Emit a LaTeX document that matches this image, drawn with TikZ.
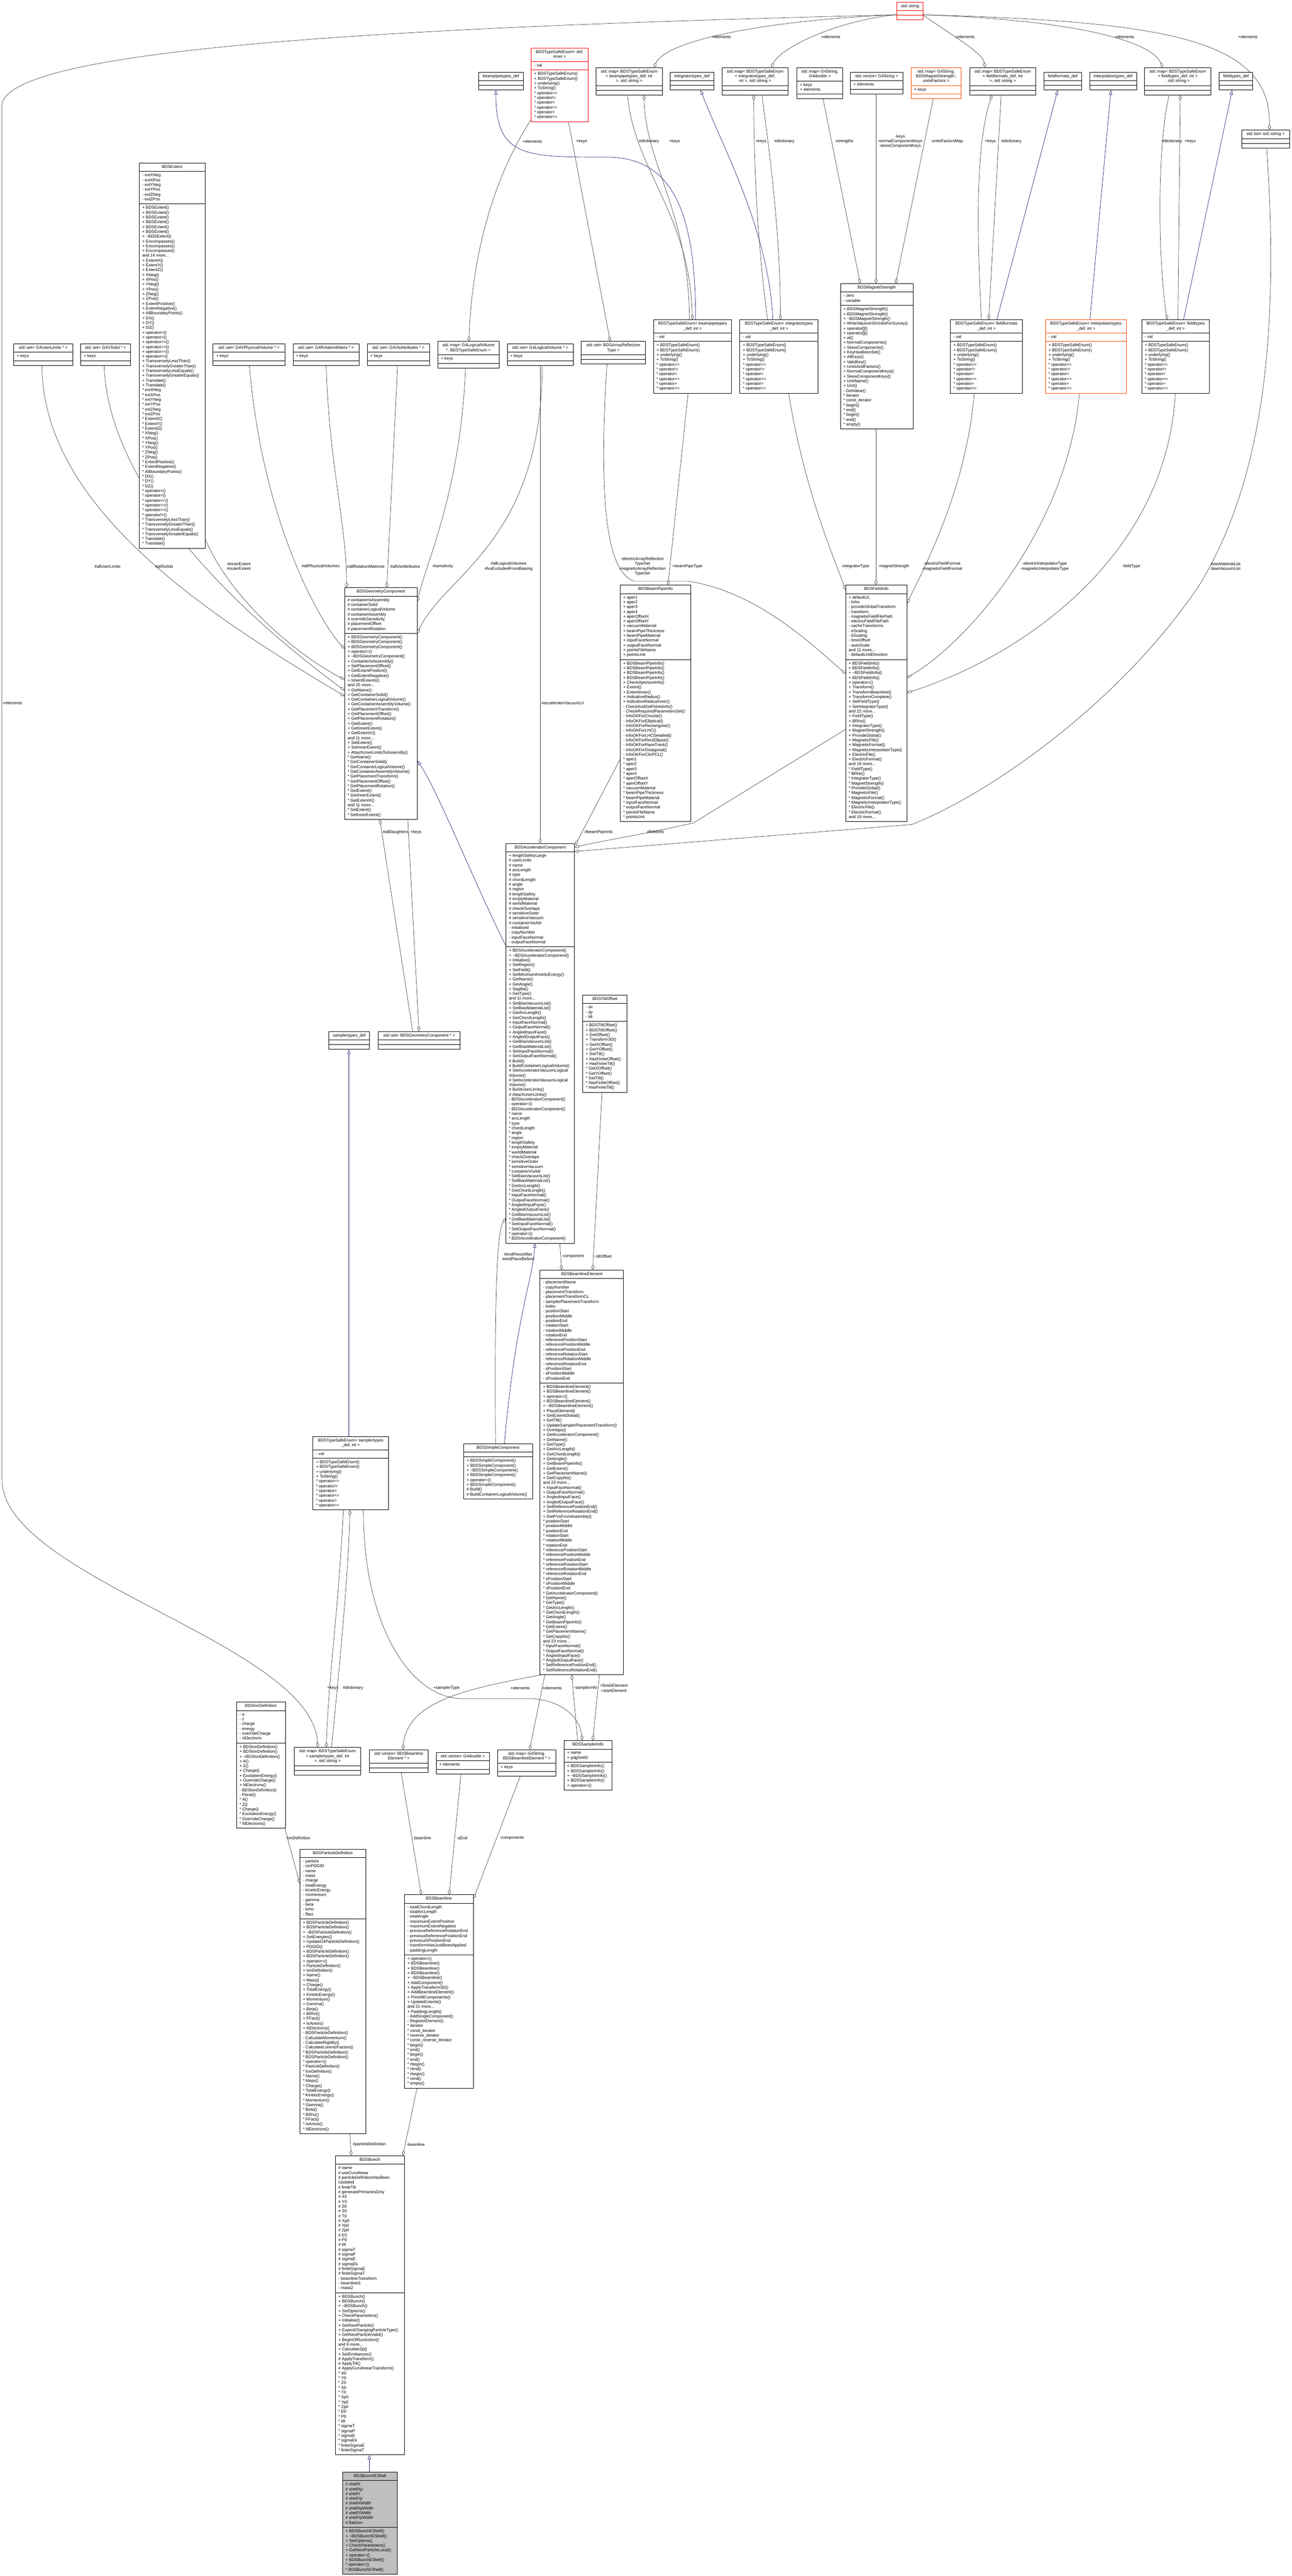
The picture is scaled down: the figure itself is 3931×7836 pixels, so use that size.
\documentclass[tikz,border=0pt]{standalone}
\usepackage{fontspec}
\setmainfont{Liberation Sans}
\usetikzlibrary{shapes.multipart,arrows.meta,calc}
\definecolor{edgec}{HTML}{404040}
\definecolor{inhc}{HTML}{191970}
\definecolor{ored}{HTML}{FF4500}
\definecolor{shade}{HTML}{BFBFBF}
\pgfdeclarelayer{bg}
\pgfsetlayers{bg,main}
\newcommand\tld{\textasciitilde}
\newcommand\umlclass[8][]{\node[umlbox,#1,minimum width=#5*0.75pt,anchor=north west] (#2) at (#3,#4) {\begin{tabular}{@{}c@{}}#6\end{tabular}\nodepart{second}\begin{tabular}{@{}l@{}}#7\end{tabular}\nodepart{third}\begin{tabular}{@{}l@{}}#8\end{tabular}};}
\newcommand\enummeth{+ BDSTypeSafeEnum()\\+ BDSTypeSafeEnum()\\+ underlying()\\+ ToString()\\{*} operator==\\{*} operator!=\\{*} operator<\\{*} operator<=\\{*} operator>\\{*} operator>=}
\tikzset{
  umlbox/.style={rectangle split, rectangle split parts=3, draw=black, line width=0.9pt, fill=white,
    inner xsep=7pt, inner ysep=3.75pt, rectangle split part align={center,left,left},
    font=\fontsize{9.5}{10.95}\selectfont},
  agg/.style={draw=edgec, line width=0.8pt, -{Diamond[open,length=12pt,width=7pt]}},
  inh/.style={draw=inhc, line width=0.8pt, -{Triangle[open,length=10pt,width=7pt]}},
  lbl/.style={font=\fontsize{9.5}{10.95}\selectfont, inner sep=0pt, align=center}
}
\begin{document}
\begin{tikzpicture}[x=0.75pt,y=-0.75pt]
\begin{pgfonlayer}{bg}
\fill[white] (0,0) rectangle (3931,7836);
\end{pgfonlayer}
\useasboundingbox (0,0) rectangle (3931,7836);

% ---------- top row ----------
\umlclass[draw=red]{stdstring}{2729}{6}{80}{std::string}{}{}
\umlclass{btdef}{1456}{219}{136}{beampipetypes\_def}{}{}
\umlclass[draw=red]{tse}{1616}{146}{173}{BDSTypeSafeEnum< def,\\ inner >}{- val}{\enummeth}
\umlclass{mapbp}{1813}{205}{202}{std::map< BDSTypeSafeEnum\\< beampipetypes\_def, int\\ >, std::string >}{}{}
\umlclass{itdef}{2039}{219}{133}{integratortypes\_def}{}{}
\umlclass{mapit}{2197}{205}{201}{std::map< BDSTypeSafeEnum\\< integratortypes\_def,\\ int >, std::string >}{}{}
\umlclass{mapgd}{2425}{205}{139}{std::map< G4String,\\ G4double >}{+ keys\\+ elements}{}
\umlclass{vecgs}{2588}{219}{159}{std::vector< G4String >}{+ elements}{}
\umlclass[draw=ored]{mapuf}{2772}{205}{153}{std::map< G4String,\\ BDSMagnetStrength::\\ unitsFactors >}{+ keys}{}
\umlclass{mapff}{2951}{205}{200}{std::map< BDSTypeSafeEnum\\< fieldformats\_def, int\\ >, std::string >}{}{}
\umlclass{ffdef}{3176}{219}{115}{fieldformats\_def}{}{}
\umlclass{ipdef}{3316}{219}{142}{interpolatortypes\_def}{}{}
\umlclass{mapft}{3483}{205}{201}{std::map< BDSTypeSafeEnum\\< fieldtypes\_def, int >\\, std::string >}{}{}
\umlclass{ftdef}{3710}{219}{102}{fieldtypes\_def}{}{}
\umlclass{stdlist}{3778}{395}{146}{std::list< std::string >}{}{}

% ---------- BDSExtent ----------
\umlclass{extent}{423}{495}{200}{BDSExtent}{- extXNeg\\- extXPos\\- extYNeg\\- extYPos\\- extZNeg\\- extZPos}{+ BDSExtent()\\+ BDSExtent()\\+ BDSExtent()\\+ BDSExtent()\\+ BDSExtent()\\+ BDSExtent()\\+ \tld BDSExtent()\\+ Encompasses()\\+ Encompasses()\\+ Encompasses()\\and 14 more...\\+ ExtentX()\\+ ExtentY()\\+ ExtentZ()\\+ XNeg()\\+ XPos()\\+ YNeg()\\+ YPos()\\+ ZNeg()\\+ ZPos()\\+ ExtentPositive()\\+ ExtentNegative()\\+ AllBoundaryPoints()\\+ DX()\\+ DY()\\+ DZ()\\+ operator<()\\+ operator>()\\+ operator<=()\\+ operator>=()\\+ operator==()\\+ operator!=()\\+ TransverselyLessThan()\\+ TransverselyGreaterThan()\\+ TransverselyLessEquals()\\+ TransverselyGreaterEquals()\\+ Translate()\\+ Translate()\\{*} extXNeg\\{*} extXPos\\{*} extYNeg\\{*} extYPos\\{*} extZNeg\\{*} extZPos\\{*} ExtentX()\\{*} ExtentY()\\{*} ExtentZ()\\{*} XNeg()\\{*} XPos()\\{*} YNeg()\\{*} YPos()\\{*} ZNeg()\\{*} ZPos()\\{*} ExtentPositive()\\{*} ExtentNegative()\\{*} AllBoundaryPoints()\\{*} DX()\\{*} DY()\\{*} DZ()\\{*} operator<()\\{*} operator>()\\{*} operator<=()\\{*} operator>=()\\{*} operator==()\\{*} operator!=()\\{*} TransverselyLessThan()\\{*} TransverselyGreaterThan()\\{*} TransverselyLessEquals()\\{*} TransverselyGreaterEquals()\\{*} Translate()\\{*} Translate()}

% ---------- set row ----------
\umlclass{setul}{41}{1045}{180}{std::set< G4UserLimits * >}{+ keys}{}
\umlclass{setso}{245}{1045}{151}{std::set< G4VSolid * >}{+ keys}{}
\umlclass{setpv}{648}{1045}{218}{std::set< G4VPhysicalVolume * >}{+ keys}{}
\umlclass{setrm}{891}{1045}{201}{std::set< G4RotationMatrix * >}{+ keys}{}
\umlclass{setva}{1117}{1045}{190}{std::set< G4VisAttributes * >}{+ keys}{}
\umlclass{maplv}{1332}{1038}{186}{std::map< G4LogicalVolume\\ {*}, BDSTypeSafeEnum >}{+ keys}{}
\umlclass{setlv}{1543}{1045}{201}{std::set< G4LogicalVolume * >}{+ keys}{}
\umlclass{setar}{1768}{1038}{196}{std::set< BDSArrayReflection\\Type >}{}{}

% ---------- enum row ----------
\umlclass{tsebp}{1988}{972}{238}{BDSTypeSafeEnum< beampipetypes\\\_def, int >}{- val}{\enummeth}
\umlclass{tseit}{2251}{972}{238}{BDSTypeSafeEnum< integratortypes\\\_def, int >}{- val}{\enummeth}
\umlclass{magstr}{2557}{862}{221}{BDSMagnetStrength}{- zero\\- variable}{+ BDSMagnetStrength()\\+ BDSMagnetStrength()\\+ \tld BDSMagnetStrength()\\+ WriteValuesInSIUnitsForSurvey()\\+ operator[]()\\+ operator[]()\\+ at()\\+ NormalComponents()\\+ SkewComponents()\\+ KeyHasBeenSet()\\+ AllKeys()\\+ ValidKey()\\+ UnitsAndFactors()\\+ NormalComponentKeys()\\+ SkewComponentKeys()\\+ UnitName()\\+ Unit()\\- GetValue()\\{*} iterator\\{*} const\_iterator\\{*} begin()\\{*} end()\\{*} begin()\\{*} end()\\{*} empty()}
\umlclass{tseff}{2892}{972}{219}{BDSTypeSafeEnum< fieldformats\\\_def, int >}{- val}{\enummeth}
\umlclass[draw=ored]{tseip}{3181}{972}{247}{BDSTypeSafeEnum< interpolatortypes\\\_def, int >}{- val}{\enummeth}
\umlclass{tseft}{3474}{972}{206}{BDSTypeSafeEnum< fieldtypes\\\_def, int >}{- val}{\enummeth}

% ---------- middle ----------
\umlclass{geom}{1048}{1787}{221}{BDSGeometryComponent}{\# containerIsAssembly\\\# containerSolid\\\# containerLogicalVolume\\\# containerAssembly\\\# overrideSensitivity\\\# placementOffset\\\# placementRotation}{+ BDSGeometryComponent()\\+ BDSGeometryComponent()\\+ BDSGeometryComponent()\\+ operator=()\\+ \tld BDSGeometryComponent()\\+ ContainerIsAssembly()\\+ SetPlacementOffset()\\+ GetExtentPositive()\\+ GetExtentNegative()\\+ InheritExtents()\\and 25 more...\\+ GetName()\\+ GetContainerSolid()\\+ GetContainerLogicalVolume()\\+ GetContainerAssemblyVolume()\\+ GetPlacementTransform()\\+ GetPlacementOffset()\\+ GetPlacementRotation()\\+ GetExtent()\\+ GetInnerExtent()\\+ GetExtentX()\\and 11 more...\\+ SetExtent()\\+ SetInnerExtent()\\+ AttachUserLimitsToAssembly()\\{*} GetName()\\{*} GetContainerSolid()\\{*} GetContainerLogicalVolume()\\{*} GetContainerAssemblyVolume()\\{*} GetPlacementTransform()\\{*} GetPlacementOffset()\\{*} GetPlacementRotation()\\{*} GetExtent()\\{*} GetInnerExtent()\\{*} GetExtentX()\\and 11 more...\\{*} SetExtent()\\{*} SetInnerExtent()}

\umlclass{bpinfo}{1887}{1779}{215}{BDSBeamPipeInfo}{+ aper1\\+ aper2\\+ aper3\\+ aper4\\+ aperOffsetX\\+ aperOffsetY\\+ vacuumMaterial\\+ beamPipeThickness\\+ beamPipeMaterial\\+ inputFaceNormal\\+ outputFaceNormal\\+ pointsFileName\\+ pointsUnit}{+ BDSBeamPipeInfo()\\+ BDSBeamPipeInfo()\\+ BDSBeamPipeInfo()\\+ BDSBeamPipeInfo()\\+ CheckApertureInfo()\\+ Extent()\\+ ExtentInner()\\+ IndicativeRadius()\\+ IndicativeRadiusInner()\\- CheckAndSetPointsInfo()\\- CheckRequiredParametersSet()\\- InfoOKForCircular()\\- InfoOKForElliptical()\\- InfoOKForRectangular()\\- InfoOKForLHC()\\- InfoOKForLHCDetailed()\\- InfoOKForRectEllipse()\\- InfoOKForRaceTrack()\\- InfoOKForOctagonal()\\- InfoOKForClicPCL()\\{*} aper1\\{*} aper2\\{*} aper3\\{*} aper4\\{*} aperOffsetX\\{*} aperOffsetY\\{*} vacuumMaterial\\{*} beamPipeThickness\\{*} beamPipeMaterial\\{*} inputFaceNormal\\{*} outputFaceNormal\\{*} pointsFileName\\{*} pointsUnit}

\umlclass{finfo}{2573}{1779}{187}{BDSFieldInfo}{+ defaultUL\\- brho\\- provideGlobalTransform\\- transform\\- magneticFieldFilePath\\- electricFieldFilePath\\- cacheTransforms\\- eScaling\\- bScaling\\- timeOffset\\- autoScale\\and 11 more...\\- defaultUnitDirection}{+ BDSFieldInfo()\\+ BDSFieldInfo()\\+ \tld BDSFieldInfo()\\+ BDSFieldInfo()\\+ operator=()\\+ Transform()\\+ TransformBeamline()\\+ TransformComplete()\\+ SetFieldType()\\+ SetIntegratorType()\\and 22 more...\\+ FieldType()\\+ BRho()\\+ IntegratorType()\\+ MagnetStrength()\\+ ProvideGlobal()\\+ MagneticFile()\\+ MagneticFormat()\\+ MagneticInterpolatorType()\\+ ElectricFile()\\+ ElectricFormat()\\and 18 more...\\{*} FieldType()\\{*} BRho()\\{*} IntegratorType()\\{*} MagnetStrength()\\{*} ProvideGlobal()\\{*} MagneticFile()\\{*} MagneticFormat()\\{*} MagneticInterpolatorType()\\{*} ElectricFile()\\{*} ElectricFormat()\\and 18 more...}

\umlclass{acc}{1539}{2565}{209}{BDSAcceleratorComponent}{+ lengthSafetyLarge\\\# userLimits\\\# name\\\# arcLength\\\# type\\\# chordLength\\\# angle\\\# region\\\# lengthSafety\\\# emptyMaterial\\\# worldMaterial\\\# checkOverlaps\\\# sensitiveOuter\\\# sensitiveVacuum\\\# containerVisAttr\\- initialised\\- copyNumber\\- inputFaceNormal\\- outputFaceNormal}{+ BDSAcceleratorComponent()\\+ \tld BDSAcceleratorComponent()\\+ Initialise()\\+ SetRegion()\\+ SetField()\\+ SetMinimumKineticEnergy()\\+ GetName()\\+ GetAngle()\\+ Sagitta()\\+ GetType()\\and 11 more...\\+ SetBiasVacuumList()\\+ SetBiasMaterialList()\\+ GetArcLength()\\+ GetChordLength()\\+ InputFaceNormal()\\+ OutputFaceNormal()\\+ AngledInputFace()\\+ AngledOutputFace()\\+ GetBiasVacuumList()\\+ GetBiasMaterialList()\\+ SetInputFaceNormal()\\+ SetOutputFaceNormal()\\\# Build()\\\# BuildContainerLogicalVolume()\\\# SetAcceleratorVacuumLogical\\Volume()\\\# SetAcceleratorVacuumLogical\\Volume()\\\# BuildUserLimits()\\\# AttachUserLimits()\\- BDSAcceleratorComponent()\\- operator=()\\- BDSAcceleratorComponent()\\{*} name\\{*} arcLength\\{*} type\\{*} chordLength\\{*} angle\\{*} region\\{*} lengthSafety\\{*} emptyMaterial\\{*} worldMaterial\\{*} checkOverlaps\\{*} sensitiveOuter\\{*} sensitiveVacuum\\{*} containerVisAttr\\{*} SetBiasVacuumList()\\{*} SetBiasMaterialList()\\{*} GetArcLength()\\{*} GetChordLength()\\{*} InputFaceNormal()\\{*} OutputFaceNormal()\\{*} AngledInputFace()\\{*} AngledOutputFace()\\{*} GetBiasVacuumList()\\{*} GetBiasMaterialList()\\{*} SetInputFaceNormal()\\{*} SetOutputFaceNormal()\\{*} operator=()\\{*} BDSAcceleratorComponent()}

\umlclass{tilt}{1773}{3026}{135}{BDSTiltOffset}{- dx\\- dy\\- tilt}{+ BDSTiltOffset()\\+ BDSTiltOffset()\\+ GetOffset()\\+ Transform3D()\\+ GetXOffset()\\+ GetYOffset()\\+ GetTilt()\\+ HasFiniteOffset()\\+ HasFiniteTilt()\\{*} GetXOffset()\\{*} GetYOffset()\\{*} GetTilt()\\{*} HasFiniteOffset()\\{*} HasFiniteTilt()}

\umlclass{sampdef}{1000}{3137}{124}{samplertypes\_def}{}{}
\umlclass{setgc}{1150}{3137}{250}{std::set< BDSGeometryComponent * >}{}{}

\umlclass{ble}{1643}{3863}{254}{BDSBeamlineElement}{- placementName\\- copyNumber\\- placementTransform\\- placementTransformCL\\- samplerPlacementTransform\\- index\\- positionStart\\- positionMiddle\\- positionEnd\\- rotationStart\\- rotationMiddle\\- rotationEnd\\- referencePositionStart\\- referencePositionMiddle\\- referencePositionEnd\\- referenceRotationStart\\- referenceRotationMiddle\\- referenceRotationEnd\\- sPositionStart\\- sPositionMiddle\\- sPositionEnd}{+ BDSBeamlineElement()\\+ BDSBeamlineElement()\\+ operator=()\\+ BDSBeamlineElement()\\+ \tld BDSBeamlineElement()\\+ PlaceElement()\\+ GetExtentGlobal()\\+ GetTilt()\\+ UpdateSamplerPlacementTransform()\\+ Overlaps()\\+ GetAcceleratorComponent()\\+ GetName()\\+ GetType()\\+ GetArcLength()\\+ GetChordLength()\\+ GetAngle()\\+ GetBeamPipeInfo()\\+ GetExtent()\\+ GetPlacementName()\\+ GetCopyNo()\\and 23 more...\\+ InputFaceNormal()\\+ OutputFaceNormal()\\+ AngledInputFace()\\+ AngledOutputFace()\\+ SetReferencePositionEnd()\\+ SetReferenceRotationEnd()\\+ GetPVsFromAssembly()\\{*} positionStart\\{*} positionMiddle\\{*} positionEnd\\{*} rotationStart\\{*} rotationMiddle\\{*} rotationEnd\\{*} referencePositionStart\\{*} referencePositionMiddle\\{*} referencePositionEnd\\{*} referenceRotationStart\\{*} referenceRotationMiddle\\{*} referenceRotationEnd\\{*} sPositionStart\\{*} sPositionMiddle\\{*} sPositionEnd\\{*} GetAcceleratorComponent()\\{*} GetName()\\{*} GetType()\\{*} GetArcLength()\\{*} GetChordLength()\\{*} GetAngle()\\{*} GetBeamPipeInfo()\\{*} GetExtent()\\{*} GetPlacementName()\\{*} GetCopyNo()\\and 23 more...\\{*} InputFaceNormal()\\{*} OutputFaceNormal()\\{*} AngledInputFace()\\{*} AngledOutputFace()\\{*} SetReferencePositionEnd()\\{*} SetReferenceRotationEnd()}

\umlclass{tsesp}{952}{4369}{229}{BDSTypeSafeEnum< samplertypes\\\_def, int >}{- val}{\enummeth}
\umlclass{simple}{1410}{4391}{210}{BDSSimpleComponent}{}{+ BDSSimpleComponent()\\+ BDSSimpleComponent()\\+ \tld BDSSimpleComponent()\\+ BDSSimpleComponent()\\+ operator=()\\+ BDSSimpleComponent()\\\# Build()\\\# BuildContainerLogicalVolume()}

% ---------- lower ----------
\umlclass{ion}{719}{5177}{149}{BDSIonDefinition}{- a\\- z\\- charge\\- energy\\- overrideCharge\\- nElectrons}{+ BDSIonDefinition()\\+ BDSIonDefinition()\\+ \tld BDSIonDefinition()\\+ A()\\+ Z()\\+ Charge()\\+ ExcitationEnergy()\\+ OverrideCharge()\\+ NElectrons()\\- BDSIonDefinition()\\- Parse()\\{*} A()\\{*} Z()\\{*} Charge()\\{*} ExcitationEnergy()\\{*} OverrideCharge()\\{*} NElectrons()}
\umlclass{mapsp}{895}{5315}{202}{std::map< BDSTypeSafeEnum\\< samplertypes\_def, int\\ >, std::string >}{}{}
\umlclass{vecble}{1124}{5322}{178}{std::vector< BDSBeamline\\Element * >}{}{}
\umlclass{vecgd}{1327}{5330}{162}{std::vector< G4double >}{+ elements}{}
\umlclass{mapble}{1514}{5322}{177}{std::map< G4String,\\ BDSBeamlineElement * >}{+ keys}{}
\umlclass{sinfo}{1716}{5294}{146}{BDSSamplerInfo}{+ name\\+ pdgSetID}{+ BDSSamplerInfo()\\+ BDSSamplerInfo()\\+ \tld BDSSamplerInfo()\\+ BDSSamplerInfo()\\+ operator=()}

\umlclass{pdef}{912}{5624}{200}{BDSParticleDefinition}{- particle\\- ionPDGID\\- name\\- mass\\- charge\\- totalEnergy\\- kineticEnergy\\- momentum\\- gamma\\- beta\\- brho\\- ffact}{+ BDSParticleDefinition()\\+ BDSParticleDefinition()\\+ \tld BDSParticleDefinition()\\+ SetEnergies()\\+ UpdateG4ParticleDefinition()\\+ PDGID()\\+ BDSParticleDefinition()\\+ BDSParticleDefinition()\\+ operator=()\\+ ParticleDefinition()\\+ IonDefinition()\\+ Name()\\+ Mass()\\+ Charge()\\+ TotalEnergy()\\+ KineticEnergy()\\+ Momentum()\\+ Gamma()\\+ Beta()\\+ BRho()\\+ FFact()\\+ IsAnIon()\\+ NElectrons()\\- BDSParticleDefinition()\\- CalculateMomentum()\\- CalculateRigidity()\\- CalculateLorentzFactors()\\{*} BDSParticleDefinition()\\{*} BDSParticleDefinition()\\{*} operator=()\\{*} ParticleDefinition()\\{*} IonDefinition()\\{*} Name()\\{*} Mass()\\{*} Charge()\\{*} TotalEnergy()\\{*} KineticEnergy()\\{*} Momentum()\\{*} Gamma()\\{*} Beta()\\{*} BRho()\\{*} FFact()\\{*} IsAnIon()\\{*} NElectrons()}

\umlclass{beamline}{1230}{5763}{210}{BDSBeamline}{- totalChordLength\\- totalArcLength\\- totalAngle\\- maximumExtentPositive\\- maximumExtentNegative\\- previousReferenceRotationEnd\\- previousReferencePositionEnd\\- previousSPositionEnd\\- transformHasJustBeenApplied\\- paddingLength}{+ operator=()\\+ BDSBeamline()\\+ BDSBeamline()\\+ BDSBeamline()\\+ \tld BDSBeamline()\\+ AddComponent()\\+ ApplyTransform3D()\\+ AddBeamlineElement()\\+ PrintAllComponents()\\+ UpdateExtents()\\and 31 more...\\+ PaddingLength()\\- AddSingleComponent()\\- RegisterElement()\\{*} iterator\\{*} const\_iterator\\{*} reverse\_iterator\\{*} const\_reverse\_iterator\\{*} begin()\\{*} end()\\{*} begin()\\{*} end()\\{*} rbegin()\\{*} rend()\\{*} rbegin()\\{*} rend()\\{*} empty()}

\umlclass{bunch}{1020}{6557}{210}{BDSBunch}{\# name\\\# useCurvilinear\\\# particleDefinitionHasBeen\\Updated\\\# finiteTilt\\\# generatePrimariesOnly\\\# X0\\\# Y0\\\# Z0\\\# S0\\\# T0\\\# Xp0\\\# Yp0\\\# Zp0\\\# E0\\\# P0\\\# tilt\\\# sigmaT\\\# sigmaP\\\# sigmaE\\\# sigmaEk\\\# finiteSigmaE\\\# finiteSigmaT\\- beamlineTransform\\- beamlineS\\- mass2}{+ BDSBunch()\\+ BDSBunch()\\+ \tld BDSBunch()\\+ SetOptions()\\+ CheckParameters()\\+ Initialise()\\+ GetNextParticle()\\+ ExpectChangingParticleType()\\+ GetNextParticleValid()\\+ BeginOfRunAction()\\and 9 more...\\+ CalculateZp()\\+ SetEmittances()\\\# ApplyTransform()\\\# ApplyTilt()\\\# ApplyCurvilinearTransform()\\{*} X0\\{*} Y0\\{*} Z0\\{*} S0\\{*} T0\\{*} Xp0\\{*} Yp0\\{*} Zp0\\{*} E0\\{*} P0\\{*} tilt\\{*} sigmaT\\{*} sigmaP\\{*} sigmaE\\{*} sigmaEk\\{*} finiteSigmaE\\{*} finiteSigmaT}

\umlclass[fill=shade]{eshell}{1042}{7519}{167}{BDSBunchEShell}{\# shellX\\\# shellXp\\\# shellY\\\# shellYp\\\# shellXWidth\\\# shellXpWidth\\\# shellYWidth\\\# shellYpWidth\\\# flatGen}{+ BDSBunchEShell()\\+ \tld BDSBunchEShell()\\+ SetOptions()\\+ CheckParameters()\\+ GetNextParticleLocal()\\+ operator=()\\+ BDSBunchEShell()\\{*} operator=()\\{*} BDSBunchEShell()}

% ---------- edges ----------
\begin{pgfonlayer}{bg}
\draw[agg] ($(stdstring.north west)+(0,39)$) .. controls (2350,60) and (2030,120) .. ($(mapbp.north west)+(177,0)$);
\draw[agg] ($(stdstring.north west)+(0,39)$) .. controls (2560,60) and (2380,140) .. ($(mapit.north west)+(150,0)$);
\draw[agg] ($(stdstring.south east)+(0,-15)$) .. controls (2900,110) and (2990,160) .. ($(mapff.north west)+(47,0)$);
\draw[agg] ($(stdstring.north east)+(0,39)$) .. controls (3250,60) and (3500,120) .. ($(mapft.north west)+(56,0)$);
\draw[agg] ($(stdstring.north east)+(0,39)$) .. controls (3550,65) and (3870,120) .. ($(stdlist.north west)+(85,0)$);
\draw[agg] ($(stdstring.north west)+(0,39)$) .. controls (1300,80) and (20,140) .. (6,320) -- (6,4500) .. controls (6,4800) and (950,5000) .. ($(mapsp.north west)+(72,0)$);
\draw[inh] ($(tsebp.north west)+(129,0)$) .. controls (2117,650) and (2050,480) .. (1850,478) .. controls (1600,478) and (1509,480) .. ($(btdef.south west)+(53,0)$);
\draw[agg] ($(mapbp.south west)+(97,0)$) .. controls (1930,520) and (2100,650) .. ($(tsebp.north west)+(119,0)$);
\draw[agg] ($(tsebp.north west)+(110,0)$) .. controls (2098,650) and (1965,500) .. ($(mapbp.south west)+(147,0)$);
\draw[inh] ($(tseit.north west)+(101,0)$) .. controls (2340,700) and (2200,450) .. ($(itdef.south west)+(93,0)$);
\draw[agg] ($(tseit.north west)+(85,0)$) .. controls (2300,700) and (2294,450) .. ($(mapit.south west)+(97,0)$);
\draw[agg] ($(mapit.south west)+(122,0)$) .. controls (2340,450) and (2375,700) .. ($(tseit.north west)+(124,0)$);
\draw[agg] ($(mapgd.south west)+(80,0)$) -- ($(magstr.north west)+(61,0)$);
\draw[agg] ($(vecgs.south west)+(78,0)$) -- ($(magstr.north west)+(109,0)$);
\draw[agg] ($(mapuf.south west)+(68,0)$) -- ($(magstr.north west)+(169,0)$);
\draw[agg] ($(tseff.north west)+(95,0)$) .. controls (2975,750) and (2965,450) .. ($(mapff.south west)+(68,0)$);
\draw[agg] ($(mapff.south west)+(96,0)$) -- ($(tseff.north west)+(117,0)$);
\draw[inh] ($(tseff.north west)+(142,0)$) -- ($(ffdef.south west)+(43,0)$);
\draw[inh] ($(tseip.north west)+(136,0)$) -- ($(ipdef.south west)+(65,0)$);
\draw[agg] ($(mapft.south west)+(75,0)$) .. controls (3520,450) and (3525,800) .. ($(tseft.north west)+(78,0)$);
\draw[agg] ($(tseft.north west)+(111,0)$) -- ($(mapft.south west)+(109,0)$);
\draw[inh] ($(tseft.north west)+(128,0)$) -- ($(ftdef.south west)+(40,0)$);
\draw[agg] ($(tse.south west)+(0,-6)$) .. controls (1540,480) and (1440,700) .. ($(maplv.north west)+(95,0)$);
\draw[agg] ($(tse.south west)+(114,0)$) -- ($(setar.north west)+(89,0)$);
\draw[agg] ($(setul.south west)+(87,0)$) .. controls (128,1550) and (650,1880) .. ($(geom.north west)+(0,330)$);
\draw[agg] ($(setso.south west)+(72,0)$) .. controls (330,1500) and (750,1880) .. ($(geom.north west)+(0,313)$);
\draw[agg] ($(extent.south east)+(0,-30)$) .. controls (700,1820) and (900,1990) .. ($(geom.north west)+(0,280)$);
\draw[agg] ($(setpv.south west)+(111,0)$) .. controls (800,1600) and (980,1900) .. ($(geom.north west)+(0,186)$);
\draw[agg] ($(setrm.south west)+(102,0)$) .. controls (1000,1400) and (1055,1600) .. ($(geom.north west)+(7,0)$);
\draw[agg] ($(setva.south west)+(93,0)$) -- ($(geom.north west)+(129,0)$);
\draw[agg] ($(maplv.south west)+(85,0)$) .. controls (1400,1500) and (1300,1700) .. ($(geom.north east)+(0,43)$);
\draw[agg] ($(setlv.south west)+(107,0)$) .. controls (1650,1650) and (1350,1750) .. ($(geom.north east)+(0,140)$);
\draw[inh] ($(acc.north west)+(0,311)$) .. controls (1450,2700) and (1330,2400) .. ($(geom.north east)+(0,527)$);
\draw[agg] ($(setgc.north west)+(106,0)$) -- ($(geom.south west)+(108,0)$);
\draw[agg] ($(geom.south west)+(193,0)$) -- ($(setgc.north west)+(125,0)$);
\draw[agg] ($(setlv.south west)+(101,0)$) -- ($(acc.north west)+(105,0)$);
\draw[agg] ($(bpinfo.north west)+(0,531)$) -- ($(acc.north east)+(2,5)$);
\draw[agg] ($(finfo.north west)+(0,440)$) -- (2111,2503) .. controls (1950,2540) and (1820,2560) .. ($(acc.north east)+(0,12)$);
\draw[agg] ($(stdlist.south west)+(77,0)$) .. controls (3900,1100) and (3820,1500) .. (3650,1780) .. controls (3400,2150) and (3000,2420) .. (2775,2508) -- ($(acc.north east)+(0,25)$);
\draw[agg] ($(tsebp.south west)+(106,0)$) -- ($(bpinfo.north west)+(146,0)$);
\draw[agg] ($(setar.south west)+(79,0)$) .. controls (1820,1550) and (1850,1740) .. (1930,1768) -- (2095,1768) .. controls (2300,1800) and (2460,1950) .. ($(finfo.north west)+(0,270)$);
\draw[agg] ($(tseit.south west)+(149,0)$) .. controls (2450,1500) and (2540,1700) .. ($(finfo.north west)+(0,15)$);
\draw[agg] ($(magstr.south west)+(109,0)$) -- ($(finfo.north west)+(93,0)$);
\draw[agg] ($(tseff.south west)+(73,0)$) .. controls (2940,1500) and (2800,1750) .. ($(finfo.north east)+(0,56)$);
\draw[agg] ($(tseip.south west)+(104,0)$) .. controls (3250,1600) and (2950,1950) .. ($(finfo.north east)+(0,282)$);
\draw[agg] ($(tseft.south west)+(103,0)$) .. controls (3550,1700) and (3100,2000) .. ($(finfo.north east)+(0,328)$);
\draw[inh] ($(simple.north west)+(125,0)$) .. controls (1570,4000) and (1620,3900) .. ($(acc.south west)+(89,0)$);
\draw[agg] ($(simple.north west)+(98,0)$) .. controls (1505,4000) and (1510,3750) .. ($(acc.south west)+(0,-77)$);
\draw[agg] ($(acc.south west)+(165,0)$) -- ($(ble.north west)+(66,0)$);
\draw[agg] ($(tilt.south west)+(59,0)$) -- ($(ble.north west)+(161,0)$);
\draw[inh] ($(tsesp.north west)+(110,0)$) -- ($(sampdef.south west)+(62,0)$);
\draw[agg] ($(tsesp.south west)+(93,0)$) .. controls (1030,4900) and (1000,5100) .. ($(mapsp.north west)+(98,0)$);
\draw[agg] ($(mapsp.north west)+(114,0)$) .. controls (1030,5100) and (1060,4800) .. ($(tsesp.south west)+(113,0)$);
\draw[agg] ($(tsesp.south west)+(154,0)$) .. controls (1106,4950) and (1250,5160) .. (1400,5167) -- (1620,5167) .. controls (1720,5175) and (1765,5230) .. ($(sinfo.north west)+(56,0)$);
\draw[agg] ($(ble.south west)+(3,0)$) .. controls (1400,5140) and (1240,5180) .. ($(vecble.north west)+(102,0)$);
\draw[agg] ($(ble.south west)+(15,0)$) -- ($(mapble.north west)+(98,0)$);
\draw[agg] ($(sinfo.north west)+(42,0)$) -- ($(ble.south west)+(97,0)$);
\draw[agg] ($(ble.south west)+(181,0)$) -- ($(sinfo.north west)+(88,0)$);
\draw[agg] ($(ion.south west)+(148,0)$) -- ($(pdef.north west)+(0,104)$);
\draw[agg] ($(vecble.south west)+(97,0)$) -- ($(beamline.north west)+(52,0)$);
\draw[agg] ($(vecgd.south west)+(76,0)$) -- ($(beamline.north west)+(137,0)$);
\draw[agg] ($(mapble.south west)+(69,0)$) -- ($(beamline.north east)+(0,12)$);
\draw[agg] ($(pdef.south west)+(153,0)$) -- ($(bunch.north west)+(49,0)$);
\draw[agg] ($(beamline.south west)+(39,0)$) -- ($(bunch.north west)+(206,0)$);
\draw[inh] ($(eshell.north west)+(82,0)$) -- ($(bunch.south west)+(104,0)$);
\end{pgfonlayer}

% ---------- labels ----------
\node[lbl] (l1) at (2195,112) {+elements};
\node[lbl] (l2) at (2528,112) {+elements};
\node[lbl] (l3) at (2937,112) {+elements};
\node[lbl] (l4) at (3422,112) {+elements};
\node[lbl] (l5) at (3798,112) {+elements};
\node[lbl] (l6) at (1620,430) {+elements};
\node[lbl] (l7) at (1770,430) {+keys};
\node[lbl] (l8) at (1975,430) {\#dictionary};
\node[lbl] (l9) at (2053,430) {+keys};
\node[lbl] (l10) at (2316,430) {+keys};
\node[lbl] (l11) at (2387,430) {\#dictionary};
\node[lbl] (l12) at (2569,430) {-strengths};
\node[lbl] (l13) at (2739,430) {-keys\\-normalComponentKeys\\-skewComponentKeys};
\node[lbl] (l14) at (2882,430) {-unitsFactorsMap};
\node[lbl] (l15) at (3014,430) {+keys};
\node[lbl] (l16) at (3078,430) {\#dictionary};
\node[lbl] (l17) at (3567,430) {\#dictionary};
\node[lbl] (l18) at (3622,430) {+keys};
\node[lbl] (l19) at (327,1723) {\#allUserLimits};
\node[lbl] (l20) at (500,1723) {\#allSolids};
\node[lbl] (l21) at (727,1723) {\#innerExtent\\\#outerExtent};
\node[lbl] (l22) at (976,1723) {\#allPhysicalVolumes};
\node[lbl] (l23) at (1113,1723) {\#allRotationMatrices};
\node[lbl] (l24) at (1233,1723) {\#allVisAttributes};
\node[lbl] (l25) at (1348,1723) {\#sensitivity};
\node[lbl] (l26) at (1548,1723) {\#allLogicalVolumes\\\#lvsExcludedFromBiasing};
\node[lbl] (l27) at (1955,1723) {-electricArrayReflection\\TypeSet\\-magneticArrayReflection\\TypeSet};
\node[lbl] (l28) at (2092,1723) {+beamPipeType};
\node[lbl] (l29) at (2603,1723) {-integratorType};
\node[lbl] (l30) at (2720,1723) {-magnetStrength};
\node[lbl] (l31) at (2867,1723) {-electricFieldFormat\\-magneticFieldFormat};
\node[lbl] (l32) at (3179,1723) {-electricInterpolatorType\\-magneticInterpolatorType};
\node[lbl] (l33) at (3443,1723) {-fieldType};
\node[lbl] (l34) at (3729,1723) {-biasMaterialList\\-biasVacuumList};
\node[lbl] (l35) at (38,2138) {+elements};
\node[lbl] (l36) at (1713,2138) {\#acceleratorVacuumLV};
\node[lbl] (l37) at (1204,2531) {\#allDaughters};
\node[lbl] (l38) at (1266,2531) {+keys};
\node[lbl] (l39) at (1822,2531) {\#beamPipeInfo};
\node[lbl] (l40) at (1995,2531) {\#fieldInfo};
\node[lbl] (l41) at (1577,3822) {\#endPieceAfter\\\#endPieceBefore};
\node[lbl] (l42) at (1743,3822) {-component};
\node[lbl] (l43) at (1836,3822) {-tiltOffset};
\node[lbl] (l44) at (1013,5135) {+keys};
\node[lbl] (l45) at (1074,5135) {\#dictionary};
\node[lbl] (l46) at (1359,5135) {+samplerType};
\node[lbl] (l47) at (1583,5135) {+elements};
\node[lbl] (l48) at (1680,5135) {+elements};
\node[lbl] (l49) at (1782,5135) {-samplerInfo};
\node[lbl] (l50) at (1868,5135) {+finishElement\\+startElement};
\node[lbl] (l51) at (907,5591) {-ionDefinition};
\node[lbl] (l52) at (1284,5591) {-beamline};
\node[lbl] (l53) at (1406,5591) {-sEnd};
\node[lbl] (l54) at (1558,5591) {-components};
\node[lbl] (l55) at (1124,6523) {\#particleDefinition};
\node[lbl] (l56) at (1265,6523) {-beamline};
\end{tikzpicture}
\end{document}
